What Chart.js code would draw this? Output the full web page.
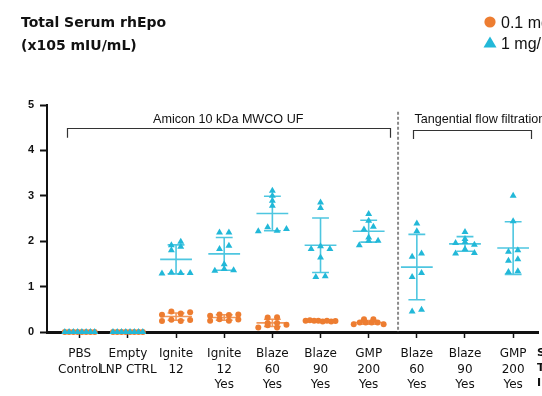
<!DOCTYPE html>
<html>
<head>
<meta charset="utf-8">
<script src="https://cdn.jsdelivr.net/npm/chart.js@4.4.0/dist/chart.umd.min.js"></script>
<style>
  html, body { margin: 0; padding: 0; background: #fff; }
</style>
</head>
<body>
<canvas id="epo-chart" width="542" height="396"></canvas>
<script>
// Groups along the x axis (multi-line labels)
const groupLabels = [
    ['PBS', 'Control'], ['Empty', 'LNP CTRL'], ['Ignite', '12'], ['Ignite', '12', 'Yes'],
    ['Blaze', '60', 'Yes'], ['Blaze', '90', 'Yes'], ['GMP', '200', 'Yes'],
    ['Blaze', '60', 'Yes'], ['Blaze', '90', 'Yes'], ['GMP', '200', 'Yes']
];
const yTicks = [0, 1, 2, 3, 4, 5];

// 0.1 mg/kg, individual animals (x10^5 mIU/mL)
const dose01 = [
    [0, 0, 0, 0, 0, 0, 0, 0],
    [0, 0, 0, 0, 0, 0, 0, 0],
    [0.24, 0.27, 0.24, 0.265, 0.38, 0.45, 0.41, 0.435],
    [0.25, 0.28, 0.25, 0.275, 0.36, 0.385, 0.375, 0.385],
    [0.10, 0.15, 0.10, 0.16, 0.20, 0.20, 0.32, 0.325],
    [0.25, 0.26, 0.25, 0.25, 0.23, 0.25, 0.23, 0.24],
    [0.17, 0.21, 0.21, 0.21, 0.21, 0.17, 0.28, 0.28],
    [], [], []
];
const dose01Mean = [0, 0, 0.34, 0.32, 0.20, 0.24, 0.21, null, null, null];
const dose01SD = [0, 0, 0.08, 0.06, 0.08, 0.01, 0.04, 0, 0, 0];

// 1 mg/kg, individual animals
const dose1 = [
    [0, 0, 0, 0, 0, 0, 0, 0],
    [0, 0, 0, 0, 0, 0, 0, 0],
    [1.29, 1.31, 1.30, 1.30, 1.80, 1.88, 1.91, 1.99],
    [1.35, 1.39, 1.36, 1.49, 1.83, 1.90, 2.19, 2.19],
    [2.22, 2.31, 2.23, 2.27, 2.78, 2.89, 3.00, 3.11],
    [1.21, 1.23, 1.64, 1.83, 1.89, 1.83, 2.73, 2.85],
    [1.91, 2.01, 2.01, 2.08, 2.26, 2.32, 2.45, 2.60],
    [0.45, 0.49, 1.21, 1.30, 1.66, 1.73, 2.22, 2.39],
    [1.73, 1.82, 1.74, 1.96, 1.98, 1.92, 2.05, 2.20],
    [1.32, 1.34, 1.57, 1.60, 1.77, 1.80, 2.44, 3.00]
];
const dose1Mean = [0, 0, 1.60, 1.72, 2.61, 1.91, 2.22, 1.43, 1.94, 1.85];
const dose1SD = [0, 0, 0.32, 0.36, 0.38, 0.60, 0.24, 0.72, 0.16, 0.58];

const ORANGE = '#ed7d31';
const BLUE = '#22b8d8';

// spread points with similar values side by side (simple beeswarm)
function swarm(values, center, tol) {
    const order = values.map((v, i) => i).sort((a, b) => values[a] - values[b]);
    const rows = [];
    let row = null;
    order.forEach(i => {
        if (!row || values[i] - values[row[0]] > tol) {
            row = [i];
            rows.push(row);
        } else {
            row.push(i);
        }
    });
    const pts = new Array(values.length);
    rows.forEach(r => {
        r.sort((a, b) => a - b);
        const step = r.length > 1 ? Math.min(0.195, 0.62 / (r.length - 1)) : 0;
        r.forEach((i, k) => {
            pts[i] = { x: center + (k - (r.length - 1) / 2) * step, y: values[i] };
        });
    });
    return pts;
}

// mean + SD bars
const errorBars = {
    id: 'errorBars',
    beforeDatasetsDraw(chart) {
        const { ctx, scales: { x, y } } = chart;
        const catPx = x.getPixelForValue(1) - x.getPixelForValue(0);
        const draw = (means, sds, color) => {
            ctx.save();
            ctx.strokeStyle = color;
            ctx.lineWidth = 1.6;
            means.forEach((m, i) => {
                if (m === null) return;
                const cx = x.getPixelForValue(i);
                const my = y.getPixelForValue(m);
                const top = y.getPixelForValue(m + sds[i]);
                const bot = y.getPixelForValue(Math.max(0, m - sds[i]));
                const mw = catPx * 0.33, cw = catPx * 0.175;
                ctx.beginPath();
                ctx.moveTo(cx - mw, my);
                ctx.lineTo(cx + mw, my);
                if (sds[i] > 0) {
                    ctx.moveTo(cx, top); ctx.lineTo(cx, bot);
                    ctx.moveTo(cx - cw, top); ctx.lineTo(cx + cw, top);
                    ctx.moveTo(cx - cw, bot); ctx.lineTo(cx + cw, bot);
                }
                ctx.stroke();
            });
            ctx.restore();
        };
        draw(dose01Mean, dose01SD, 'rgba(237,125,49,0.8)');
        draw(dose1Mean, dose1SD, 'rgba(34,184,216,0.8)');
    }
};

// title, legend, brackets, separator
const annotations = {
    id: 'annotations',
    afterDraw(chart) {
        const { ctx, scales: { x, y } } = chart;
        ctx.save();
        ctx.fillStyle = '#111';
        ctx.textBaseline = 'alphabetic';
        ctx.font = 'bold 14px "DejaVu Sans"';
        ctx.fillText('Total Serum rhEpo', 21, 27);
        ctx.fillText('(x105 mIU/mL)', 21, 50);

        // legend
        ctx.fillStyle = ORANGE;
        ctx.beginPath();
        ctx.arc(490, 22, 5.6, 0, Math.PI * 2);
        ctx.fill();
        ctx.fillStyle = BLUE;
        ctx.beginPath();
        ctx.moveTo(490, 36.5);
        ctx.lineTo(496.5, 47.5);
        ctx.lineTo(483.5, 47.5);
        ctx.closePath();
        ctx.fill();
        ctx.fillStyle = '#111';
        ctx.font = '16px "Liberation Sans"';
        ctx.fillText('0.1 mg/kg', 501, 28);
        ctx.fillText('1 mg/kg', 501, 48.5);

        // dashed separator
        ctx.strokeStyle = '#8a8a8a';
        ctx.lineWidth = 2;
        ctx.setLineDash([3, 2]);
        ctx.beginPath();
        ctx.moveTo(x.getPixelForValue(6.61), y.getPixelForValue(4.85));
        ctx.lineTo(x.getPixelForValue(6.61), y.getPixelForValue(0));
        ctx.stroke();
        ctx.setLineDash([]);

        // brackets
        ctx.strokeStyle = '#333';
        ctx.lineWidth = 1.2;
        const bracket = (x0, x1, yTop, yBot) => {
            const px0 = Math.round(x.getPixelForValue(x0)) + 0.5;
            const px1 = Math.round(x.getPixelForValue(x1)) + 0.5;
            const pt = Math.round(y.getPixelForValue(yTop)) + 0.5;
            const pb = y.getPixelForValue(yBot);
            ctx.beginPath();
            ctx.moveTo(px0, pb); ctx.lineTo(px0, pt); ctx.lineTo(px1, pt); ctx.lineTo(px1, pb);
            ctx.stroke();
        };
        bracket(-0.274, 6.44, 4.49, 4.28);
        bracket(6.915, 9.38, 4.45, 4.25);

        ctx.font = '12.6px "Liberation Sans"';
        ctx.textBaseline = 'middle';
        ctx.textAlign = 'center';
        ctx.fillText('Amicon 10 kDa MWCO UF', (x.getPixelForValue(-0.274) + x.getPixelForValue(6.44)) / 2, y.getPixelForValue(4.69));
        ctx.textAlign = 'left';
        ctx.fillText('Tangential flow filtration', x.getPixelForValue(6.95), y.getPixelForValue(4.69));

        // row headers cut off at the right edge
        ctx.font = 'bold 11px "DejaVu Sans"';
        ctx.fillText('S', 537, 353);
        ctx.fillText('T', 537, 368);
        ctx.fillText('I', 537, 383);
        ctx.restore();
    }
};

const ctx = document.getElementById('epo-chart').getContext('2d');
new Chart(ctx, {
    type: 'scatter',
    data: {
        datasets: [
            {
                label: '1 mg/kg',
                data: dose1.flatMap((vals, i) => swarm(vals, i, 0.105)),
                pointStyle: 'triangle',
                pointRadius: 4,
                pointBackgroundColor: BLUE,
                pointBorderWidth: 0,
                clip: false
            },
            {
                label: '0.1 mg/kg',
                data: dose01.flatMap((vals, i) => swarm(vals, i, 0.075)),
                pointStyle: 'circle',
                pointRadius: 3,
                pointBackgroundColor: ORANGE,
                pointBorderWidth: 0,
                clip: false
            }
        ]
    },
    options: {
        responsive: false,
        animation: false,
        layout: { padding: { top: 105, right: 0, left: 0, bottom: 0 } },
        plugins: {
            legend: { display: false },
            tooltip: { enabled: false }
        },
        scales: {
            x: {
                type: 'linear',
                min: -0.68,
                max: 9.516,
                afterBuildTicks: s => { s.ticks = groupLabels.map((l, i) => ({ value: i })); },
                afterFit: s => { s.height = 64; },
                ticks: {
                    callback: v => groupLabels[v],
                    font: { family: 'DejaVu Sans', size: 12, lineHeight: 1.3 },
                    color: '#111',
                    padding: 8,
                    maxRotation: 0,
                    autoSkip: false
                },
                grid: { drawOnChartArea: false, tickLength: 6, tickColor: '#111', tickWidth: 1.5 },
                border: { color: '#111', width: 3 }
            },
            y: {
                min: 0,
                max: 5,
                afterBuildTicks: s => { s.ticks = yTicks.map(v => ({ value: v })); },
                afterFit: s => { s.width = 47; },
                ticks: {
                    font: { family: 'Liberation Sans', size: 11, weight: 'bold' },
                    color: '#111',
                    padding: 6
                },
                grid: { drawOnChartArea: false, tickLength: 7, tickColor: '#111', tickWidth: 2 },
                border: { color: '#111', width: 2 }
            }
        }
    },
    plugins: [errorBars, annotations]
});
</script>
</body>
</html>
